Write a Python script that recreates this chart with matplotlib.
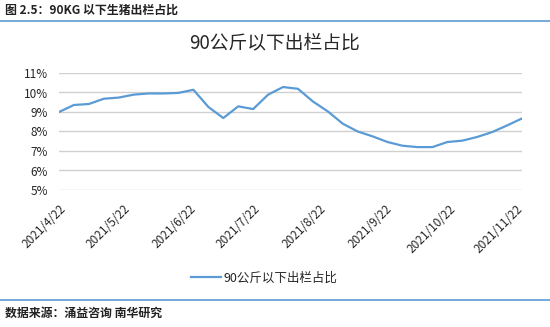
"""90KG 以下生猪出栏占比 line chart."""

import matplotlib

matplotlib.use("Agg")
import matplotlib.dates as mdates
import matplotlib.pyplot as plt
import numpy as np
import pandas as pd
from matplotlib.lines import Line2D
from matplotlib.ticker import FuncFormatter, MultipleLocator

plt.rcParams["font.family"] = ["Noto Sans CJK SC", "DejaVu Sans"]

# weekly observations starting 2021/4/22
dates = pd.date_range("2021-04-22", periods=32, freq="7D")
share = [
    9.00, 9.36, 9.41, 9.68, 9.74, 9.89, 9.95, 9.95, 9.98, 10.14,
    9.26, 8.69, 9.29, 9.15, 9.89, 10.28, 10.19, 9.54, 9.03, 8.40,
    8.00, 7.75, 7.46, 7.27, 7.20, 7.20, 7.46, 7.53, 7.72, 7.97,
    8.31, 8.67,
]
tick_dates = pd.to_datetime([f"2021-{m:02d}-22" for m in range(4, 12)])
series_name = "90公斤以下出栏占比"
chart_title = "90公斤以下出栏占比"
header = "图 2.5：90KG 以下生猪出栏占比"
source = "数据来源：涌益咨询 南华研究"

BLUE = "#5B9BD5"
W, H = 550, 327

fig = plt.figure(figsize=(W / 100, H / 100), dpi=100)
ax = fig.add_axes([59 / W, 1 - 190 / H, (522 - 59) / W, (190 - 73) / H])

ax.plot(dates, np.array(share), color=BLUE, lw=1.6, label=series_name)

ax.set_ylim(5, 11)
ax.yaxis.set_major_locator(MultipleLocator(1))
ax.yaxis.set_major_formatter(FuncFormatter(lambda v, _: f"{v:.0f}%"))
ax.set_xlim(dates[0], dates[-1])
ax.set_xticks(tick_dates)
ax.xaxis.set_major_formatter(
    FuncFormatter(lambda v, _: "{0.year}/{0.month}/{0.day}".format(mdates.num2date(v)))
)
for lbl in ax.get_xticklabels():
    lbl.set_rotation(45)
    lbl.set_ha("right")
    lbl.set_rotation_mode("anchor")

ax.grid(axis="y", color="#D0D0D0", lw=1)
ax.set_axisbelow(True)
for s in ax.spines.values():
    s.set_visible(False)
ax.tick_params(axis="both", length=0, labelsize=8.5, colors="#262626")
ax.tick_params(axis="y", pad=8)
ax.tick_params(axis="x", pad=9)

fig.text(275 / W, 1 - 43 / H, chart_title, ha="center", va="center", fontsize=13.5, color="#262626")
fig.text(5 / W, 1 - 10 / H, header, ha="left", va="center", fontsize=8.6, fontweight="bold", color="#222222")
fig.text(5 / W, 1 - 313 / H, source, ha="left", va="center", fontsize=8.6, fontweight="bold", color="#222222")
fig.add_artist(Line2D([0, 1], [1 - 20.5 / H] * 2, color=BLUE, lw=1.2))
fig.add_artist(Line2D([0, 1], [1 - 300 / H] * 2, color=BLUE, lw=1.2))

fig.legend(loc="center", bbox_to_anchor=(264 / W, 1 - 278 / H), frameon=False,
           fontsize=9, handlelength=2.4, handletextpad=0.15, labelcolor="#262626")

fig.savefig("out.png", dpi=100)
